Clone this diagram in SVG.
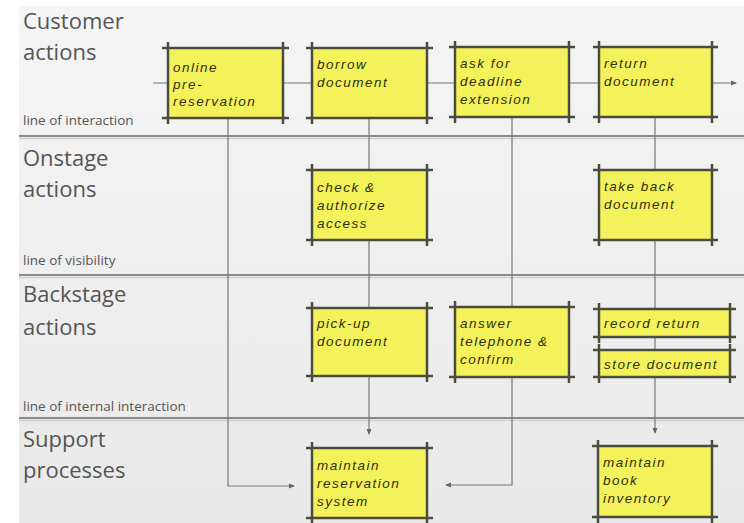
<svg xmlns="http://www.w3.org/2000/svg" width="744" height="523" viewBox="0 0 744 523">
<defs>
<linearGradient id="bg" x1="0" y1="0" x2="0" y2="1">
<stop offset="0" stop-color="#f5f5f5"/>
<stop offset="1" stop-color="#e9e9e9"/>
</linearGradient>
<marker id="arr" viewBox="0 0 6 6" refX="5" refY="3" markerWidth="6" markerHeight="6" orient="auto" markerUnits="userSpaceOnUse">
<path d="M0,0.5 L6,3 L0,5.5 z" fill="#666"/>
</marker>
</defs>
<style>
.lane{font-family:"Open Sans",Lato,sans-serif;font-size:22px;fill:#555555}
.line-label{font-family:"Open Sans",Lato,sans-serif;font-size:13.5px;fill:#555555}
.div1{stroke:#8a8a8a;stroke-width:2;fill:none}
.div2{stroke:#cfcfcf;stroke-width:1.5;fill:none}
.conn{stroke:#777;stroke-width:1.2;fill:none}
.box rect{fill:#f4f25a;stroke:#8a8a3a;stroke-width:1}
.box path{stroke:#4c4c3c;stroke-width:2.5;fill:none}
.box text{font-family:"Liberation Sans",Arial,sans-serif;font-style:italic;font-size:13.5px;letter-spacing:1.5px;fill:#2e2e10}
</style>
<rect x="0" y="0" width="744" height="523" fill="#ffffff"/>
<rect x="19" y="6" width="725" height="517" fill="url(#bg)"/>

<g id="lanes">
<text class="lane" x="23" y="29">Customer</text>
<text class="lane" x="23" y="60">actions</text>
<text class="line-label" x="23" y="125">line of interaction</text>
<line class="div1" x1="19" y1="136" x2="744" y2="136"/>
<line class="div2" x1="19" y1="138.5" x2="744" y2="138.5"/>
<text class="lane" x="23" y="166">Onstage</text>
<text class="lane" x="23" y="197">actions</text>
<text class="line-label" x="23" y="265">line of visibility</text>
<line class="div1" x1="19" y1="275" x2="744" y2="275"/>
<line class="div2" x1="19" y1="277.5" x2="744" y2="277.5"/>
<text class="lane" x="23" y="302">Backstage</text>
<text class="lane" x="23" y="335">actions</text>
<text class="line-label" x="23" y="411">line of internal interaction</text>
<line class="div1" x1="19" y1="418" x2="744" y2="418"/>
<line class="div2" x1="19" y1="420.5" x2="744" y2="420.5"/>
<text class="lane" x="23" y="447">Support</text>
<text class="lane" x="23" y="478">processes</text>
</g>

<g id="connectors">
<line class="conn" x1="153" y1="83" x2="736" y2="83" marker-end="url(#arr)"/>
<polyline class="conn" points="228,118 228,486 294,486" marker-end="url(#arr)"/>
<line class="conn" x1="369" y1="118" x2="369" y2="434" marker-end="url(#arr)"/>
<polyline class="conn" points="512,117 512,485 446,485" marker-end="url(#arr)"/>
<line class="conn" x1="655" y1="117" x2="655" y2="433" marker-end="url(#arr)"/>
</g>

<g id="online-pre-reservation" class="box">
<rect x="168" y="48" width="115" height="70"/>
<path d="M162,48H289M162,118H289M168,42V124M283,42V124"/>
<text x="173" y="72">online</text>
<text x="173" y="89">pre-</text>
<text x="173" y="106">reservation</text>
</g>
<g id="borrow-document" class="box">
<rect x="312" y="48" width="115" height="70"/>
<path d="M306,48H433M306,118H433M312,42V124M427,42V124"/>
<text x="317" y="69">borrow</text>
<text x="317" y="87">document</text>
</g>
<g id="ask-for-deadline-extension" class="box">
<rect x="455" y="47" width="114" height="70"/>
<path d="M449,47H575M449,117H575M455,41V123M569,41V123"/>
<text x="460" y="68">ask for</text>
<text x="460" y="86">deadline</text>
<text x="460" y="104">extension</text>
</g>
<g id="return-document" class="box">
<rect x="599" y="47" width="113" height="70"/>
<path d="M593,47H718M593,117H718M599,41V123M712,41V123"/>
<text x="604" y="68">return</text>
<text x="604" y="86">document</text>
</g>

<g id="check-authorize-access" class="box">
<rect x="312" y="170" width="115" height="70"/>
<path d="M306,170H433M306,240H433M312,164V246M427,164V246"/>
<text x="317" y="192">check &amp;</text>
<text x="317" y="210">authorize</text>
<text x="317" y="228">access</text>
</g>
<g id="take-back-document" class="box">
<rect x="599" y="170" width="113" height="70"/>
<path d="M593,170H718M593,240H718M599,164V246M712,164V246"/>
<text x="604" y="191">take back</text>
<text x="604" y="209">document</text>
</g>

<g id="pick-up-document" class="box">
<rect x="312" y="308" width="115" height="68"/>
<path d="M306,308H433M306,376H433M312,302V382M427,302V382"/>
<text x="317" y="328">pick-up</text>
<text x="317" y="346">document</text>
</g>
<g id="answer-telephone-confirm" class="box">
<rect x="455" y="307" width="114" height="70"/>
<path d="M449,307H575M449,377H575M455,301V383M569,301V383"/>
<text x="460" y="328">answer</text>
<text x="460" y="346">telephone &amp;</text>
<text x="460" y="364">confirm</text>
</g>
<g id="record-return" class="box">
<rect x="599" y="309" width="131" height="28"/>
<path d="M593,309H736M593,337H736M599,303V343M730,303V343"/>
<text x="604" y="328">record return</text>
</g>
<g id="store-document" class="box">
<rect x="599" y="350" width="131" height="27"/>
<path d="M593,350H736M593,377H736M599,344V383M730,344V383"/>
<text x="604" y="369">store document</text>
</g>

<g id="maintain-reservation-system" class="box">
<rect x="312" y="448" width="115" height="70"/>
<path d="M306,448H433M306,518H433M312,442V524M427,442V524"/>
<text x="317" y="470">maintain</text>
<text x="317" y="488">reservation</text>
<text x="317" y="506">system</text>
</g>
<g id="maintain-book-inventory" class="box">
<rect x="598" y="446" width="114" height="71"/>
<path d="M592,446H718M592,517H718M598,440V523M712,440V523"/>
<text x="603" y="467">maintain</text>
<text x="603" y="485">book</text>
<text x="603" y="503">inventory</text>
</g>
</svg>
